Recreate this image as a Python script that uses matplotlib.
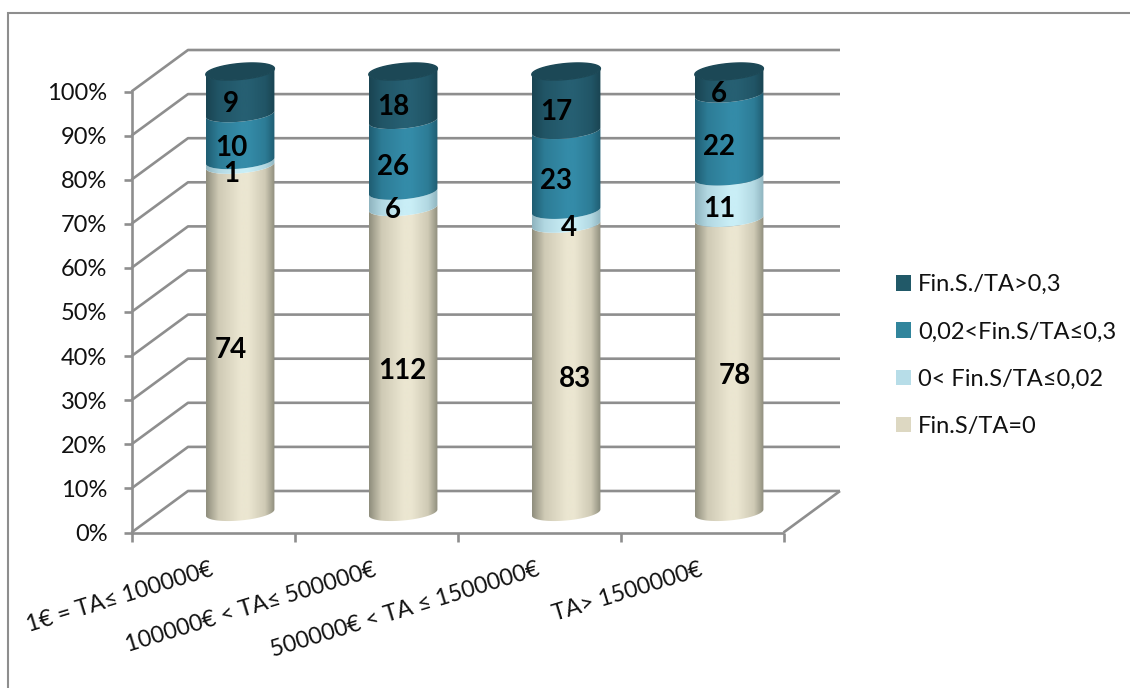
import numpy as np
import matplotlib
matplotlib.use("Agg")
import matplotlib.pyplot as plt
from matplotlib.colors import LinearSegmentedColormap
from matplotlib.patches import Patch, Polygon, Rectangle
from matplotlib.ticker import PercentFormatter

plt.rcParams["font.family"] = ["Lato", "DejaVu Sans"]

categories = ["1€ = TA≤ 100000€", "100000€ < TA≤ 500000€", "500000€ < TA ≤ 1500000€", "TA> 1500000€"]
series_names = ["Fin.S/TA=0", "0< Fin.S/TA≤0,02", "0,02<Fin.S/TA≤0,3", "Fin.S./TA>0,3"]
no_funding = [74, 112, 83, 78]
low_funding = [1, 6, 4, 11]
mid_funding = [10, 26, 23, 22]
high_funding = [9, 18, 17, 6]

# side shading per series: edge, shoulder, lit centre; flat colour for the legend
edge_colors = ["#8f8e7d", "#8fb4bf", "#1f5d72", "#1a4452"]
shoulder_colors = ["#cfcab5", "#b2d8e2", "#2d7c96", "#215566"]
light_colors = ["#ebe6d1", "#c9eef6", "#348ba8", "#265f72"]
legend_colors = ["#ddd8c2", "#b7dde8", "#31859c", "#215968"]
top_color = "#1c4856"
grid_color = "#8e8e8e"

# nudges of the value labels, in category units
label_dx = [
    [-0.055, -0.055, -0.055, -0.055],
    [-0.005, -0.06, -0.06, -0.06],
    [0.055, 0.02, -0.06, -0.06],
    [0.035, -0.06, -0.06, -0.06],
]

W, H = 1130, 688
LEFT, RIGHT, Y0, Y100 = 131.5, 783.5, 532.5, 91.5
fig = plt.figure(figsize=(W / 100, H / 100), dpi=100)
ax = fig.add_axes([LEFT / W, 1 - Y0 / H, (RIGHT - LEFT) / W, (Y0 - Y100) / H])
ax.patch.set_visible(False)

px_x = (RIGHT - LEFT) / 4
px_y = (Y0 - Y100) / 100

# depth of the box
depth_x = 56.5 / px_x
depth_y = 41.5 / px_y

line_kw = dict(color=grid_color, lw=1.9, clip_on=False, solid_capstyle="butt", zorder=1)
for v in range(0, 101, 10):
    ax.plot([0, depth_x, 4 + depth_x], [v, v + depth_y, v + depth_y], **line_kw)
ax.plot([0, 4], [0, 0], **line_kw)
ax.plot([4, 4 + depth_x], [0, depth_y], **line_kw)

for side in ["top", "right", "bottom"]:
    ax.spines[side].set_visible(False)
ax.spines["left"].set_color(grid_color)
ax.spines["left"].set_linewidth(1.9)
ax.set_xticks(range(5))
ax.set_xticklabels([])
ax.set_yticks(range(0, 101, 10))
ax.yaxis.set_major_formatter(PercentFormatter(100, decimals=0))
ax.tick_params(axis="y", color=grid_color, width=1.9, length=5.8, labelsize=17, pad=11.5, labelcolor="#111111")
ax.tick_params(axis="x", color=grid_color, width=1.9, length=6.5)

# cylinders stand halfway into the box
half_w = 34.3 / px_x
semi_minor = 8.0 / px_y
shear = 3.0 / px_y
base_y = 20.0 / px_y
t_front = np.linspace(np.pi, 2 * np.pi, 60)
t_all = np.linspace(0, 2 * np.pi, 120)


def rim(cx, y, t):
    return cx + half_w * np.cos(t), y + semi_minor * np.sin(t) + shear * np.cos(t)


def shaded_side(cx, y_low, y_high, k):
    xb, yb = rim(cx, base_y + y_low, t_front)
    xt, yt = rim(cx, base_y + y_high, t_front[::-1])
    outline = np.column_stack([np.r_[xb, xt], np.r_[yb, yt]])
    clip = Polygon(outline, closed=True, transform=ax.transData, fc="none", ec="none")
    ax.add_patch(clip)
    cmap = LinearSegmentedColormap.from_list(
        "side",
        [
            (0, edge_colors[k]),
            (0.18, shoulder_colors[k]),
            (0.5, light_colors[k]),
            (0.62, light_colors[k]),
            (0.86, shoulder_colors[k]),
            (1, edge_colors[k]),
        ],
    )
    img = ax.imshow(
        np.linspace(0, 1, 128).reshape(1, -1),
        cmap=cmap,
        extent=[cx - half_w, cx + half_w, 0, 120],
        aspect="auto",
        zorder=2 + k * 0.1,
        interpolation="bilinear",
    )
    # the axes box must not cut the part above 100 %
    img.set_clip_box(fig.bbox)
    img.set_clip_path(clip)


series = [no_funding, low_funding, mid_funding, high_funding]
for i in range(len(categories)):
    values = np.array([s[i] for s in series], dtype=float)
    shares = values / values.sum() * 100
    tops = np.cumsum(shares)
    lows = tops - shares
    cx = i + 0.5 + depth_x / 2 - 0.007
    for k in range(len(series)):
        shaded_side(cx, lows[k], tops[k], k)
        ax.text(
            cx + label_dx[i][k],
            base_y + (lows[k] + tops[k]) / 2 - 11.0 / px_y,
            str(int(values[k])),
            ha="center",
            va="center",
            fontsize=20,
            fontweight="bold",
            color="black",
            zorder=5,
        )
    # closing ellipse on the top segment
    xt, yt = rim(cx, base_y + 100, t_all)
    ax.fill(xt, yt, color=top_color, zorder=3, clip_on=False)

ax.set_xlim(0, 4)
ax.set_ylim(0, 100)

for i, name in enumerate(categories):
    ax.text(
        i + 0.5,
        -8.3,
        name,
        rotation=17,
        rotation_mode="anchor",
        ha="right",
        va="center",
        fontsize=16.6,
        color="#111111",
        clip_on=False,
    )

handles = [Patch(facecolor=c, edgecolor="none", label=n) for c, n in zip(legend_colors, series_names)][::-1]
fig.legend(
    handles=handles,
    loc="center left",
    bbox_to_anchor=(896 / W, 1 - 355.5 / H),
    frameon=False,
    fontsize=17,
    handlelength=0.635,
    handleheight=0.635,
    handletextpad=0.3,
    labelspacing=1.11,
    labelcolor="#111111",
    borderaxespad=0,
    borderpad=0,
)

# chart area frame
fig.add_artist(Rectangle((7.5 / W, -0.02), 1.1, 1 - 12.5 / H + 0.02, transform=fig.transFigure,
                         fc="none", ec=grid_color, lw=1.5, zorder=0))

fig.savefig("out.png", dpi=100)
